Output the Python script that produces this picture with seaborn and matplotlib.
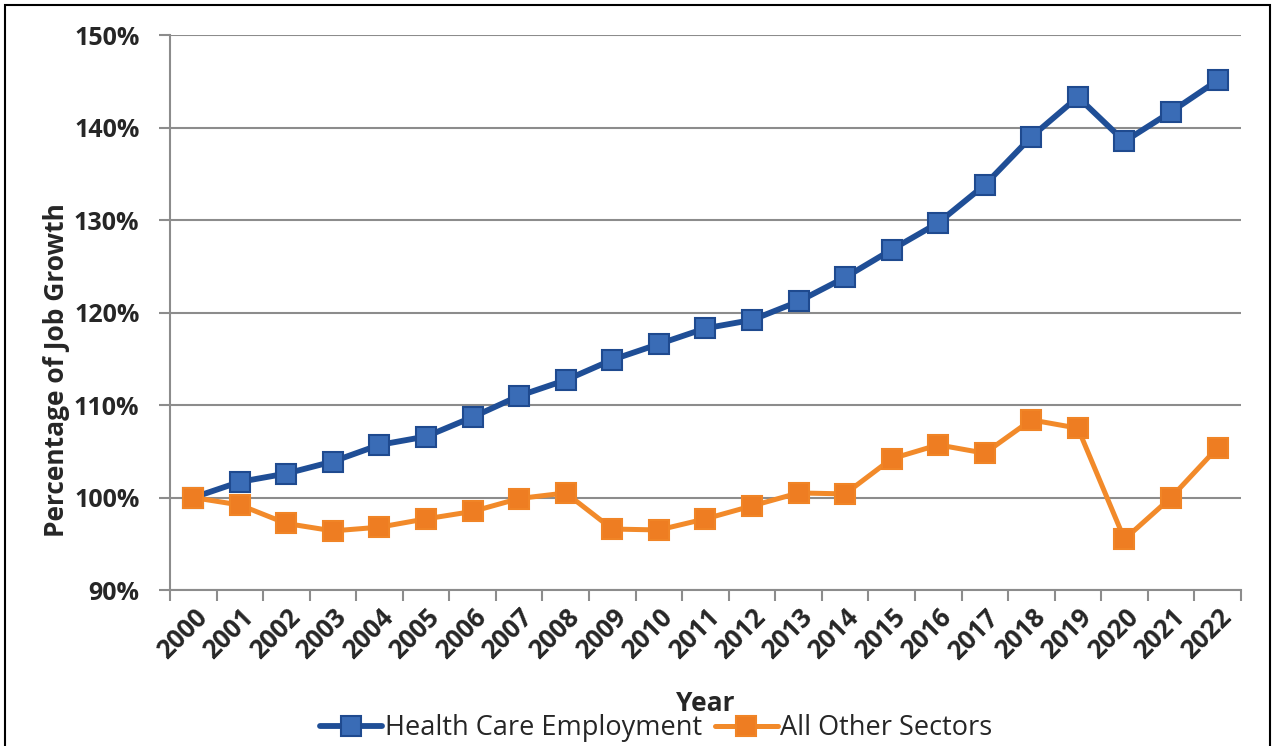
import matplotlib
matplotlib.use("Agg")
import matplotlib.pyplot as plt
import matplotlib.patches as mpatches
from matplotlib.ticker import FixedLocator, NullFormatter
import seaborn as sns
import pandas as pd

# ---------------------------
# data (index, 2000 = 100%)
# ---------------------------
years = [str(y) for y in range(2000, 2023)]
health_care = [100.0, 101.7, 102.6, 103.9, 105.7, 106.6, 108.7, 111.0, 112.7, 114.9,
               116.6, 118.3, 119.2, 121.2, 123.8, 126.8, 129.7, 133.8, 139.0, 143.3,
               138.5, 141.7, 145.1]
other_sectors = [100.0, 99.2, 97.2, 96.4, 96.8, 97.7, 98.5, 99.9, 100.5, 96.6,
                 96.5, 97.7, 99.1, 100.5, 100.4, 104.2, 105.7, 104.8, 108.4, 107.5,
                 95.5, 100.0, 105.4]
series_names = ["Health Care Employment", "All Other Sectors"]
y_ticks = [90, 100, 110, 120, 130, 140, 150]

df = pd.DataFrame({
    "Year": years * 2,
    "Value": health_care + other_sectors,
    "Series": [series_names[0]] * len(years) + [series_names[1]] * len(years),
})

sns.set_style("white")
plt.rcParams["font.family"] = ["Open Sans", "DejaVu Sans"]

line_cols = {series_names[0]: "#1f4e96", series_names[1]: "#f28a2a"}
face_cols = {series_names[0]: "#3a6cb6", series_names[1]: "#ee7d22"}
edge_cols = {series_names[0]: "#1f4a8f", series_names[1]: "#f08426"}
line_widths = {series_names[0]: 4.2, series_names[1]: 3.6}

fig = plt.figure(figsize=(12.74, 7.46), dpi=100)
ax = fig.add_axes([0.1334, 0.209, 0.8406, 0.744])

for name in series_names:
    sub = df[df["Series"] == name]
    sns.lineplot(data=sub, x="Year", y="Value", ax=ax, color=line_cols[name],
                 linewidth=line_widths[name], marker="s", markersize=14,
                 markerfacecolor=face_cols[name], markeredgecolor=edge_cols[name],
                 markeredgewidth=1.5, label=name, sort=False)

ax.set_ylim(90, 150)
ax.set_xlim(-0.5, len(years) - 0.5)
ax.set_yticks(y_ticks)
ax.set_yticklabels([f"{t}%" for t in y_ticks], fontsize=18, fontweight="bold")
ax.yaxis.grid(True, color="#8c8c8c", linewidth=1.5)
ax.set_axisbelow(True)

# category labels centred, tick marks at the category boundaries
ax.set_xticks(range(len(years)))
ax.set_xticklabels(years, rotation=45, ha="right", rotation_mode="anchor",
                   fontsize=18.5, fontweight="bold")
ax.tick_params(axis="x", which="major", length=0, pad=10)
ax.xaxis.set_minor_locator(FixedLocator([i - 0.5 for i in range(len(years) + 1)]))
ax.xaxis.set_minor_formatter(NullFormatter())
ax.tick_params(axis="x", which="minor", length=8, width=1.5, color="#8c8c8c", bottom=True)
ax.tick_params(axis="y", length=8, width=1.5, color="#8c8c8c", left=True, pad=14)

for s in ["top", "right"]:
    ax.spines[s].set_visible(False)
for s in ["left", "bottom"]:
    ax.spines[s].set_color("#8c8c8c")
    ax.spines[s].set_linewidth(1.5)

ax.set_xlabel("Year", fontsize=19, fontweight="bold")
ax.xaxis.set_label_coords(0.5, -0.180)
ax.set_ylabel("Percentage of Job Growth", fontsize=19, fontweight="bold")
ax.yaxis.set_label_coords(-0.093, 0.396)

handles, labels = ax.get_legend_handles_labels()
ax.get_legend().remove()
fig.legend(handles, labels, loc="center", bbox_to_anchor=(0.515, 0.024), ncol=2,
           frameon=False, fontsize=19.5, handlelength=2.3, handletextpad=0.1,
           columnspacing=0.5)

# outer frame of the figure
fig.patches.append(mpatches.Rectangle((5 / 1274, -0.05), 1 - 9 / 1274, 1.05 - 5 / 746,
                                      transform=fig.transFigure, fill=False,
                                      edgecolor="black", linewidth=1.5))

fig.savefig("out.png", dpi=100)
